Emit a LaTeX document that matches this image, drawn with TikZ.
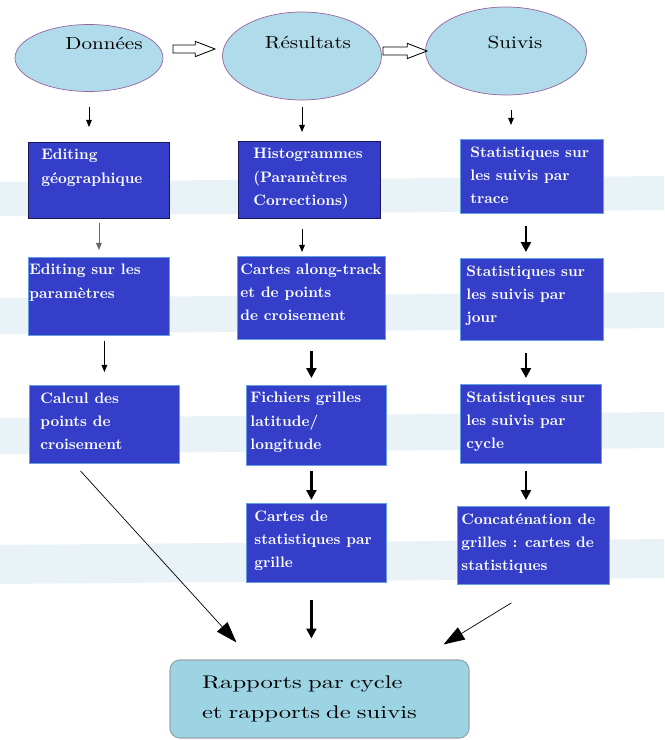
\documentclass[tikz,border=0pt]{standalone}
\usepackage{fontspec}
\newfontfamily\ellfont{lmroman10-regular.otf}[FakeStretch=1.2]
\newfontfamily\finfont{lmroman10-regular.otf}[FakeStretch=1.35]
\usetikzlibrary{shapes.geometric,arrows.meta,calc}

\newdimen\pxu \pxu=0.025cm
\definecolor{boxblue}{RGB}{52,62,200}
\definecolor{boxrim}{RGB}{100,160,225}
\definecolor{navyrim}{RGB}{25,25,90}
\definecolor{ellblue}{RGB}{176,219,234}
\definecolor{ellrim}{RGB}{150,100,160}
\definecolor{finblue}{RGB}{156,212,228}
\definecolor{finrim}{RGB}{150,165,175}
\definecolor{bandblue}{RGB}{233,242,247}

% box text: width, height, left pad, text
\newcommand\cell[4]{\hspace*{#3\pxu}\parbox[c][#2\pxu][t]{\dimexpr#1\pxu-#3\pxu\relax}{\raggedright\vspace*{7\pxu}#4}}
% hollow block arrow between two coordinates
\newcommand\fatarrow[2]{%
  \draw[line width=0.6pt, fill=white] let \p1=(#1), \p2=(#2) in
    (\x1,{\y1+2.8pt}) -- ({\x2-14pt},{\y1+2.8pt}) -- ({\x2-14pt},{\y1+5.4pt})
    -- (\x2,\y1) -- ({\x2-14pt},{\y1-5.4pt}) -- ({\x2-14pt},{\y1-2.8pt})
    -- (\x1,{\y1-2.8pt}) -- cycle;}

\begin{document}
\begin{tikzpicture}[x=0.025cm, y=-0.025cm,
    ellnode/.style={ellipse, draw=ellrim, line width=0.5pt, fill=ellblue, inner sep=0pt},
    elltext/.style={font=\fontsize{12.5}{15}\ellfont, text=black},
    procbox/.style={draw=boxrim, line width=0.6pt, fill=boxblue, text=white, inner sep=0pt,
        anchor=north west, font=\fontsize{10.8}{16.5}\selectfont\bfseries},
    finbox/.style={draw=finrim, line width=0.8pt, fill=finblue, rounded corners=7pt,
        minimum width=299\pxu, minimum height=78\pxu, text width=235\pxu, align=left,
        inner sep=0pt, font=\fontsize{13}{21}\finfont},
    thinarr/.style={-{Triangle[length=5pt,width=4pt]}, line width=0.6pt},
    thickarr/.style={-{Triangle[length=7pt,width=7pt]}, line width=1.7pt},
    diagarr/.style={-{Triangle[length=15pt,width=10pt]}, line width=0.5pt}]
  \useasboundingbox (0,0) rectangle (664,740);

  % pale slanted bands behind the rows
  \foreach \t/\b in {182/210, 298/328, 418/448, 545/578}
    \fill[bandblue] (0,\t) -- (664,\t-6) -- (664,\b) -- (0,\b+6) -- cycle;

  % top row
  \node[ellnode, minimum width=148\pxu, minimum height=67\pxu,
        label={[elltext, shift={(15,-15)}]center:Données}] (don) at (89,58) {};
  \node[ellnode, minimum width=159\pxu, minimum height=88\pxu,
        label={[elltext, shift={(6,-13)}]center:Résultats}] (res) at (302,56) {};
  \node[ellnode, minimum width=161\pxu, minimum height=88\pxu,
        label={[elltext, shift={(9,-8)}]center:Suivis}] (sui) at (506,51) {};
  \coordinate (f1a) at (173,49);
  \coordinate (f1b) at (215,49);
  \coordinate (f2a) at (383,51);
  \coordinate (f2b) at (427,51);
  \fatarrow{f1a}{f1b}
  \fatarrow{f2a}{f2b}

  % boxes
  \node[procbox, draw=navyrim] (b11) at (28,142) {\cell{141}{76}{13}{Editing\\géographique}};
  \node[procbox, draw=navyrim] (b12) at (238,141) {\cell{142}{77}{15}{Histogrammes\\(Paramètres\\Corrections)}};
  \node[procbox] (b13) at (460,139) {\cell{143}{74}{10}{Statistiques sur\\les suivis par\\trace}};
  \node[procbox] (b21) at (28,257) {\cell{141}{78}{1}{Editing sur les\\paramètres}};
  \node[procbox] (b22) at (237,256) {\cell{148}{83}{3}{Cartes along-track\\et de points\\de croisement}};
  \node[procbox] (b23) at (460,258) {\cell{143}{82}{6}{Statistiques sur\\les suivis par\\jour}};
  \node[procbox] (b31) at (29,385) {\cell{150}{78}{11}{Calcul des\\points de\\croisement}};
  \node[procbox] (b32) at (246,385) {\cell{140}{80}{4}{Fichiers grilles\\latitude/\\longitude}};
  \node[procbox] (b33) at (460,384) {\cell{141}{79}{6}{Statistiques sur\\les suivis par\\cycle}};
  \node[procbox] (b42) at (246,503) {\cell{140}{79}{8}{Cartes de\\statistiques par\\grille}};
  \node[procbox] (b43) at (457,506) {\cell{152}{78}{4}{Concaténation de\\grilles : cartes de\\statistiques}};
  \node[finbox] (fin) at (319.5,699) {Rapports par cycle\\et rapports de suivis};

  % connectors
  \draw[thinarr, shorten <=15\pxu, shorten >=15\pxu] (don.south) -- (don.south |- b11.north);
  \draw[thinarr, shorten <=7\pxu, shorten >=9\pxu] (res.south) -- (res.south |- b12.north);
  \draw[thinarr, shorten <=15\pxu, shorten >=14\pxu] ([xshift=5\pxu]sui.south) -- ([xshift=5\pxu]sui.south |- b13.north);
  \draw[thinarr, black!60, shorten <=4\pxu, shorten >=7\pxu] (b11.south) -- (b11.south |- b21.north);
  \draw[thinarr, shorten <=10\pxu, shorten >=4\pxu] (res.south |- b12.south) -- (res.south |- b22.north);
  \draw[thickarr, shorten <=12\pxu, shorten >=6\pxu] ([xshift=-6\pxu]b13.south) -- ([xshift=-6\pxu]b13.south |- b23.north);
  \draw[thinarr, shorten <=5\pxu, shorten >=13\pxu] (b31.north |- b21.south) -- (b31.north);
  \draw[thickarr, shorten <=11\pxu, shorten >=7\pxu] (b22.south) -- (b22.south |- b32.north);
  \draw[thickarr, shorten <=12\pxu, shorten >=6\pxu] ([xshift=-5\pxu]b33.south |- b23.south) -- ([xshift=-5\pxu]b33.south |- b33.north);
  \draw[thickarr, shorten <=5\pxu, shorten >=3\pxu] ([xshift=-5\pxu]b32.south) -- ([xshift=-5\pxu]b32.south |- b42.north);
  \draw[thickarr, shorten <=7\pxu, shorten >=6\pxu] ([xshift=-5\pxu]b33.south) -- ([xshift=-5\pxu]b33.south |- b43.north);
  \draw[thickarr, shorten <=17\pxu, shorten >=21\pxu] ([xshift=-5\pxu]b42.south) -- ([xshift=-5\pxu]b42.south |- fin.north);
  \draw[diagarr] ([shift={(-24,7)}]b31.south) -- ([shift={(67,-17)}]fin.north west);
  \draw[diagarr] ([shift={(-22,18)}]b43.south) -- ([shift={(-26,-15)}]fin.north east);
\end{tikzpicture}
\end{document}
